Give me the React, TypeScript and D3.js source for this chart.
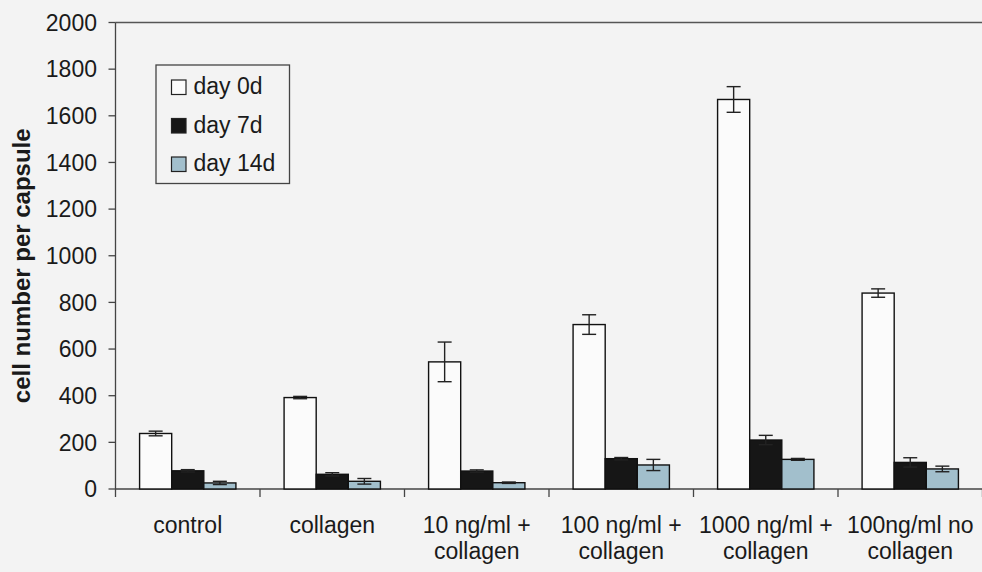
import React from "react";
import * as d3 from "d3";

const categories = ["control", "collagen", "10 ng/ml + collagen", "100 ng/ml + collagen", "1000 ng/ml + collagen", "100ng/ml no collagen"];
const categoryLines = [["control"], ["collagen"], ["10 ng/ml +", "collagen"], ["100 ng/ml +", "collagen"], ["1000 ng/ml +", "collagen"], ["100ng/ml no", "collagen"]];
const seriesNames = ["day 0d", "day 7d", "day 14d"];
const day0 = [238, 392, 545, 705, 1670, 840];
const day0Err = [10, 5, 85, 42, 55, 18];
const day7 = [78, 63, 77, 130, 210, 114];
const day7Err = [5, 7, 5, 5, 20, 20];
const day14 = [26, 33, 27, 103, 127, 86];
const day14Err = [7, 12, 3, 24, 4, 12];
const yTicks = [0, 200, 400, 600, 800, 1000, 1200, 1400, 1600, 1800, 2000];

const seriesValues = [day0, day7, day14];
const seriesErrs = [day0Err, day7Err, day14Err];
const seriesFills = ["#fbfbfb", "#161616", "#a2bfcc"];

export default function App() {
  const W = 982, H = 572;
  const left = 115.5, right = 982.5, top = 22.5, bottom = 489;
  const x = d3.scaleBand().domain(categories).range([left, right]).paddingInner(0).paddingOuter(0);
  const y = d3.scaleLinear().domain([0, 2000]).range([bottom, top]);
  const bw = x.bandwidth();
  const barW = bw / 1.5 / 3;
  const inner = d3.scaleBand().domain(seriesNames).range([(bw - 3 * barW) / 2, (bw + 3 * barW) / 2]).padding(0);
  const font = "Arial, 'Liberation Sans', sans-serif";
  const fs = 23;

  return (
    <svg width={W} height={H} style={{ position: "fixed", left: 0, top: 0, background: "#f3f3f3" }} fontFamily={font}>
      <rect x={0} y={0} width={W} height={H} fill="#f3f3f3" />
      {/* plot border top */}
      <line x1={left} x2={right} y1={top} y2={top} stroke="#555" strokeWidth={1.3} />
      {/* y axis */}
      <line x1={left} x2={left} y1={top} y2={bottom + 8} stroke="#444" strokeWidth={1.3} />
      {yTicks.map((t) => (
        <g key={t}>
          <line x1={left - 7} x2={left} y1={y(t)} y2={y(t)} stroke="#444" strokeWidth={1.3} />
          <text x={97} y={y(t)} dy="0.36em" textAnchor="end" fontSize={fs} fill="#1a1a1a">{t}</text>
        </g>
      ))}
      {/* x axis */}
      <line x1={left} x2={right} y1={bottom} y2={bottom} stroke="#444" strokeWidth={1.3} />
      {categories.map((c, i) => (
        <line key={"t" + i} x1={(x(c) as number) + bw} x2={(x(c) as number) + bw} y1={bottom} y2={bottom + 8} stroke="#444" strokeWidth={1.3} />
      ))}
      {/* bars */}
      {categories.map((c, i) => (
        <g key={c} transform={`translate(${x(c)},0)`}>
          {seriesNames.map((s, k) => {
            const v = seriesValues[k][i];
            const e = seriesErrs[k][i];
            const bx = inner(s) as number;
            const cx = bx + barW / 2;
            return (
              <g key={s}>
                <rect x={bx} y={y(v)} width={barW} height={bottom - y(v)} fill={seriesFills[k]} stroke="#111" strokeWidth={1.4} />
                <line x1={cx} x2={cx} y1={y(v + e)} y2={y(v - e)} stroke="#222" strokeWidth={1.4} />
                <line x1={cx - 7} x2={cx + 7} y1={y(v + e)} y2={y(v + e)} stroke="#222" strokeWidth={1.4} />
                <line x1={cx - 7} x2={cx + 7} y1={y(v - e)} y2={y(v - e)} stroke="#222" strokeWidth={1.4} />
              </g>
            );
          })}
        </g>
      ))}
      {/* category labels */}
      {categories.map((c, i) => (
        <text key={"l" + i} x={(x(c) as number) + bw / 2} y={533} textAnchor="middle" fontSize={fs} fill="#1a1a1a">
          {categoryLines[i].map((ln, j) => (
            <tspan key={j} x={(x(c) as number) + bw / 2} dy={j === 0 ? 0 : 25.5}>{ln}</tspan>
          ))}
        </text>
      ))}
      {/* y label */}
      <text transform={`translate(30,${(top + bottom) / 2 + 10}) rotate(-90)`} textAnchor="middle" fontSize={24} fontWeight="bold" fill="#1a1a1a">cell number per capsule</text>
      {/* legend */}
      <rect x={156} y={65} width={133.5} height={118.5} fill="#f3f3f3" stroke="#444" strokeWidth={1.3} />
      {seriesNames.map((s, k) => (
        <g key={"lg" + s}>
          <rect x={171.5} y={80 + k * 38.5} width={14.5} height={14.5} fill={seriesFills[k]} stroke="#222" strokeWidth={1.2} />
          <text x={193.5} y={94 + k * 38.5} fontSize={fs} fill="#1a1a1a">{s}</text>
        </g>
      ))}
    </svg>
  );
}
